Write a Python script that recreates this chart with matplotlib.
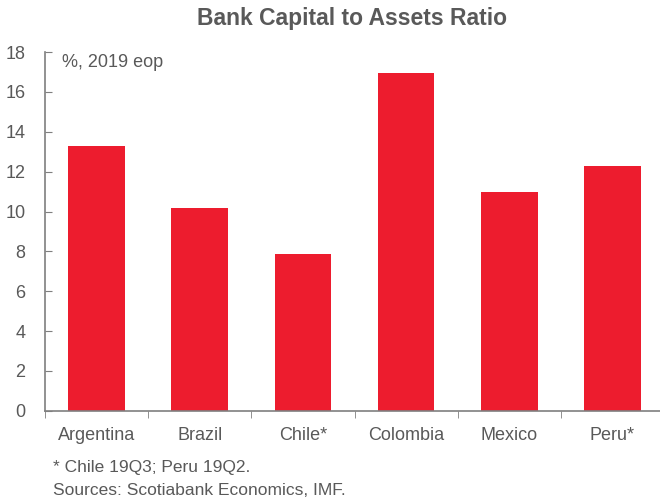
import matplotlib.pyplot as plt

plt.rcParams['font.family'] = ['Liberation Sans', 'DejaVu Sans']

countries = ['Argentina', 'Brazil', 'Chile*', 'Colombia', 'Mexico', 'Peru*']
ratios = [13.3, 10.2, 7.85, 16.95, 11.0, 12.3]

red = '#ED1C2E'
grey = '#595959'
axis_grey = '#7F7F7F'

fig = plt.figure(figsize=(6.6, 5.01), dpi=100)
ax = fig.add_axes([0.068, 0.18, 0.932, 0.716])

ax.bar(range(len(countries)), ratios, width=0.55, color=red)

ax.set_xlim(-0.5, 5.46)
ax.set_ylim(0, 18)
ax.set_yticks(range(0, 19, 2))
ax.set_xticks(range(len(countries)))
ax.set_xticklabels(countries)
ax.set_xticks([i - 0.5 for i in range(len(countries))], minor=True)
ax.tick_params(axis='x', which='major', length=0, pad=12, labelsize=13, labelcolor=grey)
ax.tick_params(axis='x', which='minor', length=5, direction='out', color=axis_grey)
ax.tick_params(axis='y', length=5, direction='in', color=axis_grey,
               labelsize=13, labelcolor=grey, pad=14)

for s in ['top', 'right']:
    ax.spines[s].set_visible(False)
for s in ['left', 'bottom']:
    ax.spines[s].set_color(axis_grey)
    ax.spines[s].set_linewidth(1.2)

ax.text(0.028, 0.97, '%, 2019 eop', transform=ax.transAxes, fontsize=13,
        color=grey, va='center', ha='left')

fig.text(0.534, 0.963, 'Bank Capital to Assets Ratio', fontsize=16.5,
         fontweight='bold', color=grey, ha='center', va='center')
fig.text(0.08, 0.066, '* Chile 19Q3; Peru 19Q2.', fontsize=12.5, color=grey,
         ha='left', va='center')
fig.text(0.08, 0.020, 'Sources: Scotiabank Economics, IMF.', fontsize=12.5,
         color=grey, ha='left', va='center')

fig.savefig('out.png', dpi=100)
